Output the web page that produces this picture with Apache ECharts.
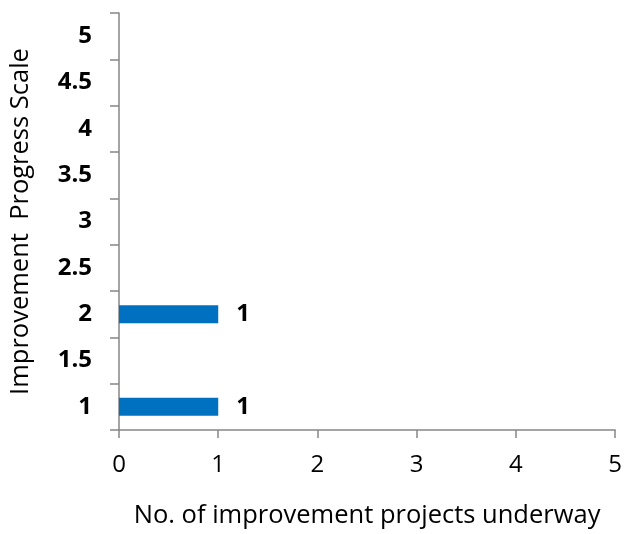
<!DOCTYPE html>
<html>
<head>
<meta charset="utf-8">
<script src="https://cdn.jsdelivr.net/npm/echarts@6/dist/echarts.min.js"></script>
<style>
  html, body { margin: 0; padding: 0; background: #fff; }
  #chart { width: 625px; height: 534px; }
</style>
</head>
<body>
<div id="chart"></div>
<script>
// Progress scale levels (y categories) and number of projects at each level
const scaleLevels = ['1', '1.5', '2', '2.5', '3', '3.5', '4', '4.5', '5'];
const projectCounts = [1, null, 1, null, null, null, null, null, null];
const xTicks = [0, 1, 2, 3, 4, 5];

const FONT = '"Open Sans", Lato, sans-serif';
const axisGray = '#868686';

const chart = echarts.init(document.getElementById('chart'));
chart.setOption({
  animation: false,
  grid: { left: 117, right: 5, top: 13, bottom: 101, containLabel: false },
  xAxis: {
    type: 'value',
    min: xTicks[0],
    max: xTicks[xTicks.length - 1],
    interval: 1,
    name: 'No. of improvement projects underway',
    nameLocation: 'middle',
    nameGap: 73,
    nameTextStyle: { fontFamily: FONT, fontSize: 25.5, color: '#000' },
    axisLine: { show: true, lineStyle: { color: axisGray, width: 1.5 } },
    axisTick: { show: true, length: 8, lineStyle: { color: axisGray, width: 1.5 } },
    axisLabel: { fontFamily: FONT, fontSize: 24, color: '#000', margin: 23 },
    splitLine: { show: false }
  },
  yAxis: {
    type: 'category',
    data: scaleLevels,
    boundaryGap: true,
    name: 'Improvement  Progress Scale',
    nameLocation: 'middle',
    nameGap: 85,
    nameRotate: 90,
    nameTextStyle: { fontFamily: FONT, fontSize: 25.5, color: '#000' },
    axisLine: { show: true, lineStyle: { color: axisGray, width: 1.5 } },
    axisTick: { show: true, length: 9, lineStyle: { color: axisGray, width: 1.5 } },
    axisLabel: {
      fontFamily: FONT, fontSize: 24, fontWeight: 'bold', color: '#000',
      margin: 27, padding: [0, 0, 6, 0]
    }
  },
  series: [{
    type: 'bar',
    data: projectCounts,
    barWidth: 18,
    itemStyle: { color: '#0070C0' },
    label: {
      show: true,
      position: 'right',
      distance: 18,
      fontFamily: FONT,
      fontSize: 24,
      fontWeight: 'bold',
      color: '#000'
    }
  }]
});
</script>
</body>
</html>
